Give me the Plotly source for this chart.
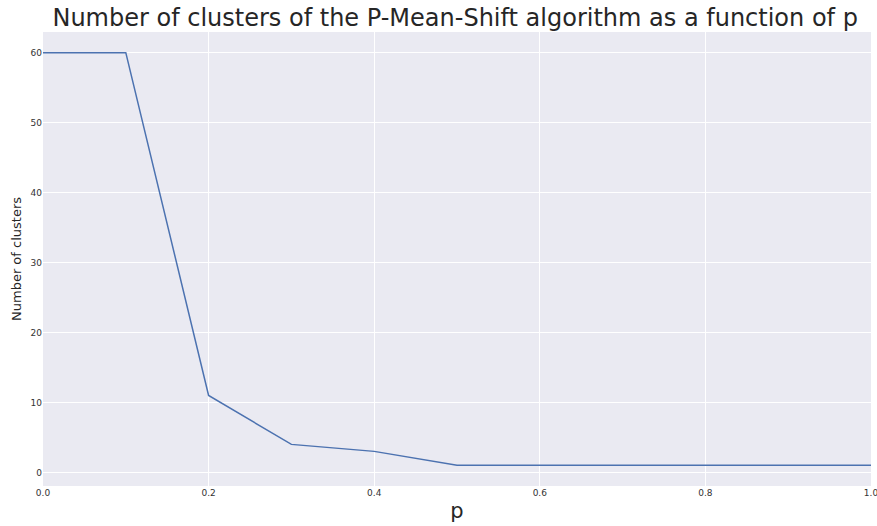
import plotly.graph_objects as go

p_values = [0.0, 0.1, 0.2, 0.3, 0.4, 0.5, 0.6, 0.7, 0.8, 0.9, 1.0]
n_clusters = [60, 60, 11, 4, 3, 1, 1, 1, 1, 1, 1]
x_ticks = [0.0, 0.2, 0.4, 0.6, 0.8, 1.0]
x_tick_labels = ["0.0", "0.2", "0.4", "0.6", "0.8", "1.0"]
y_ticks = [0, 10, 20, 30, 40, 50, 60]

fig = go.Figure()
fig.add_trace(go.Scatter(x=p_values, y=n_clusters, mode="lines",
                         line=dict(color="#4C72B0", width=1.5)))

fig.update_layout(
    width=877, height=526,
    margin=dict(l=43, r=6, t=32, b=40, autoexpand=False),
    paper_bgcolor="white", plot_bgcolor="#EAEAF2",
    showlegend=False,
    font=dict(family="DejaVu Sans", color="#262626"),
    title=dict(text="Number of clusters of the P-Mean-Shift algorithm as a function of p",
               x=0.519, xanchor="center", y=0.982, yanchor="top",
               font=dict(size=24, color="#262626", family="DejaVu Sans")),
    xaxis=dict(range=[0, 1], tickvals=x_ticks, ticktext=x_tick_labels, automargin=False,
               showgrid=True, gridcolor="white", gridwidth=1, zeroline=False,
               showline=False, ticks="", tickfont=dict(size=9, color="#333333"),
               ticklabeloverflow="allow",
               title=dict(text="p", font=dict(size=21, color="#262626"), standoff=6)),
    yaxis=dict(range=[-1.95, 62.95], tickvals=y_ticks, automargin=False,
               showgrid=True, gridcolor="white", gridwidth=1, zeroline=False,
               showline=False, ticks="", tickfont=dict(size=9, color="#333333"),
               title=dict(text="Number of clusters", font=dict(size=13, color="#262626"), standoff=5)),
)

fig.write_html("out.html", config={"displayModeBar": False},
               post_script="document.body.style.margin='0';document.body.style.overflow='hidden';")
